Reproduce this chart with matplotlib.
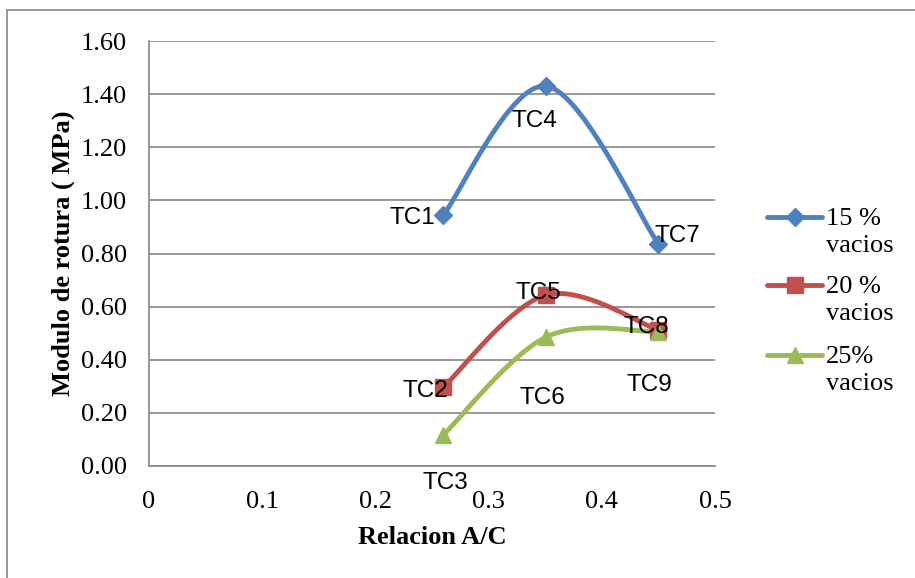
import numpy as np
import matplotlib.pyplot as plt
from matplotlib.lines import Line2D
from matplotlib.patches import Rectangle

# datos
relacion = [0.26, 0.351, 0.45]
vacios_15 = [0.945, 1.43, 0.836]
vacios_20 = [0.297, 0.644, 0.512]
vacios_25 = [0.117, 0.486, 0.505]
etiquetas_15 = ['TC1', 'TC4', 'TC7']
etiquetas_20 = ['TC2', 'TC5', 'TC8']
etiquetas_25 = ['TC3', 'TC6', 'TC9']
nombres = ['15 %\nvacios', '20 %\nvacios', '25%\nvacios']

colores = ['#4F81BD', '#C0504D', '#9BBB59']
marcadores = ['D', 's', '^']
tamanos = [9, 11, 12]
# desplazamiento de las etiquetas (pixeles)
offs_15 = [(-31, -3), (-12, -35), (19, 8)]
offs_20 = [(-18, -4), (-8, 2), (-12, 3)]
offs_25 = [(2, -48), (-4, -61), (-9, -53)]


def suavizar(x, y, n=40):
    # curva tipo Excel (bezier con tangentes catmull-rom)
    p = np.column_stack([x, y]).astype(float)
    ext = np.vstack([p[0], p, p[-1]])
    t = np.linspace(0, 1, n)[:, None]
    out = []
    for i in range(len(p) - 1):
        a = ext[i + 1]
        d = ext[i + 2]
        b = a + (ext[i + 2] - ext[i]) / 6
        c = d - (ext[i + 3] - ext[i + 1]) / 6
        seg = (1 - t) ** 3 * a + 3 * (1 - t) ** 2 * t * b + 3 * (1 - t) * t ** 2 * c + t ** 3 * d
        out.append(seg)
    out = np.vstack(out)
    return out[:, 0], out[:, 1]


fig = plt.figure(figsize=(9.15, 5.78), dpi=100)
fig.patches.append(Rectangle((7 / 915, -0.1), 1.2, 1.1 - 10 / 578, transform=fig.transFigure,
                             fill=False, edgecolor='#868686', lw=1.2))
ax = fig.add_axes([149 / 915, 112 / 578, 566 / 915, 425 / 578])

series = [(vacios_15, etiquetas_15, offs_15), (vacios_20, etiquetas_20, offs_20),
          (vacios_25, etiquetas_25, offs_25)]
for k, (vals, labs, offs) in enumerate(series):
    xs, ys = suavizar(relacion, vals)
    ax.plot(xs, ys, color=colores[k], lw=3.5, solid_capstyle='round', zorder=3)
    ax.plot(relacion, vals, ls='none', marker=marcadores[k], ms=tamanos[k],
            color=colores[k], zorder=4)
    for xv, yv, lab, off in zip(relacion, vals, labs, offs):
        ax.annotate(lab, (xv, yv), xytext=off, textcoords='offset pixels',
                    ha='center', va='center', fontsize=17.5, family='Liberation Sans', zorder=5)

ax.set_xlim(0, 0.5)
ax.set_ylim(0, 1.6)
ax.set_xticks([0, 0.1, 0.2, 0.3, 0.4, 0.5])
ax.set_xticklabels(['0', '0.1', '0.2', '0.3', '0.4', '0.5'])
ax.set_yticks(np.arange(0, 1.61, 0.2))
ax.set_yticklabels(['%.2f' % v for v in np.arange(0, 1.61, 0.2)])
ax.grid(axis='y', color='#868686', lw=1.2)
ax.set_axisbelow(True)
for s in ['top', 'right']:
    ax.spines[s].set_visible(False)
for s in ['left', 'bottom']:
    ax.spines[s].set_color('#868686')
    ax.spines[s].set_linewidth(1.2)
ax.tick_params(length=0, labelsize=19, labelfontfamily='Liberation Serif')
ax.tick_params(axis='y', pad=16)
ax.tick_params(axis='x', pad=18)

ax.set_xlabel('Relacion A/C', fontsize=19, fontweight='bold', family='Liberation Serif', labelpad=9)
ax.set_ylabel('Modulo de rotura ( MPa)', fontsize=19, fontweight='bold', family='Liberation Serif',
              labelpad=4)

# leyenda a mano
ytop = [217, 285, 355]
for k in range(3):
    yy = 1 - ytop[k] / 578
    fig.add_artist(Line2D([767 / 915, 794.5 / 915, 822 / 915], [yy, yy, yy], color=colores[k],
                          lw=3.5, marker=marcadores[k], ms=tamanos[k], markevery=[1],
                          solid_capstyle='round'))
    fig.text(826 / 915, yy + 9 / 578, nombres[k], ha='left', va='top', fontsize=19,
             family='Liberation Serif', linespacing=1.3)

fig.savefig('out.png', dpi=100)
